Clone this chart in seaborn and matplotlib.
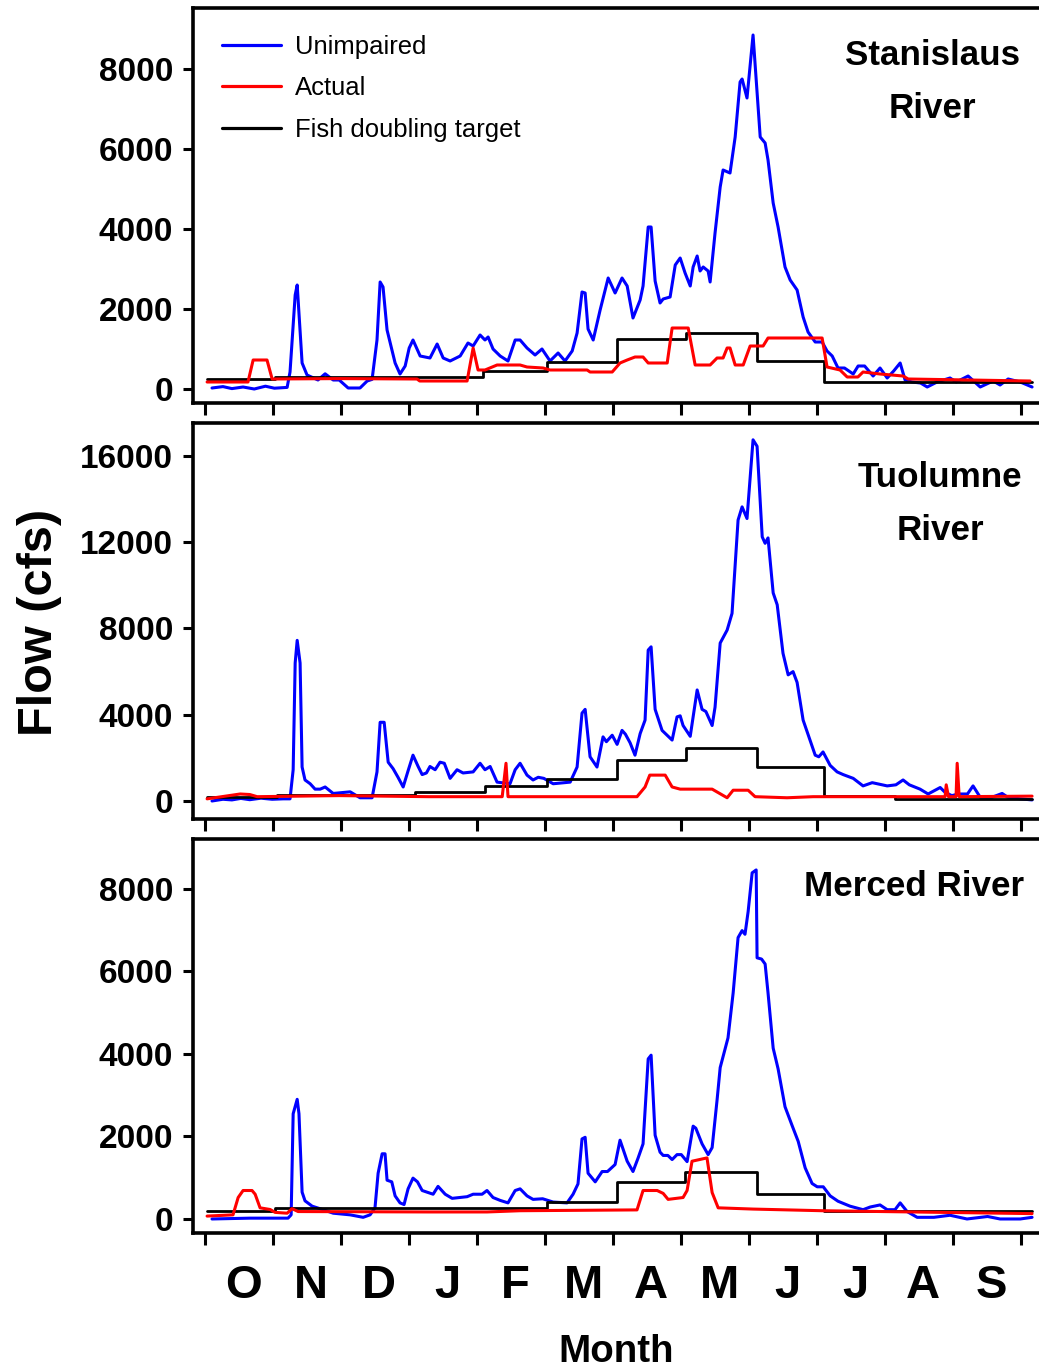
import numpy as np
import matplotlib
matplotlib.use("Agg")
import matplotlib.pyplot as plt
from matplotlib import font_manager as fm
from matplotlib.lines import Line2D
from matplotlib.transforms import ScaledTranslation
import seaborn as sns

# ---------------- data (day of water year, flow in cfs) ----------------
months = ["O", "N", "D", "J", "F", "M", "A", "M", "J", "J", "A", "S"]

stan_unimp_x = [3.1, 8, 12, 17, 22, 27, 31, 36.7, 38.0, 40.3, 41.2, 43.4, 45.6, 50.5, 53.7, 57.3, 60, 64.0, 69.3, 72.5, 74.7, 76.9, 78.3, 79.6, 81.4, 82.8, 85.0, 87.2, 89.5, 91.3, 93.0, 94.8, 96.2, 100.6, 103.8, 106.5, 109.6, 114.1, 117.6, 119.9, 123.0, 125.2, 126.6, 128.8, 132.0, 135.5, 138.7, 140.9, 144.0, 147.6, 150.7, 154.3, 157.9, 161.0, 164.2, 166.4, 168.6, 170.0, 171.3, 173.6, 176.7, 180.3, 183.4, 186.5, 188.8, 191.4, 194.6, 195.9, 198.2, 199.5, 201.3, 203.5, 204.9, 208.0, 210.3, 212.5, 214.7, 217.0, 218.3, 220.1, 221.4, 222.8, 225.0, 225.9, 228.1, 230.4, 231.7, 234.8, 237.1, 239.3, 240.2, 242.4, 245.1, 248.3, 250.5, 251.8, 254.1, 256.3, 259.4, 261.7, 264.8, 267.5, 269.7, 272.9, 276.0, 278.2, 280.5, 283.1, 286, 289.9, 292.1, 295, 298.8, 301.9, 305.1, 308, 310.9, 313.1, 316.2, 320, 323.0, 327.4, 333.2, 336, 341.3, 346.7, 352.5, 355.6, 359.2, 364.6, 369.9]
stan_unimp_y = [25, 60, 10, 50, 0, 70, 20, 40, 425, 2350, 2600, 650, 350, 225, 380, 225, 225, 25, 25, 200, 240, 1225, 2675, 2550, 1475, 1150, 650, 375, 575, 1025, 1225, 1000, 825, 775, 1125, 775, 700, 825, 1150, 1075, 1350, 1225, 1300, 1000, 825, 700, 1225, 1225, 1025, 850, 1000, 700, 900, 700, 950, 1400, 2425, 2400, 1500, 1225, 1975, 2775, 2400, 2775, 2575, 1775, 2225, 2575, 4050, 4050, 2700, 2150, 2250, 2300, 3100, 3275, 2900, 2575, 3050, 3325, 2950, 3050, 2950, 2675, 3900, 5050, 5475, 5400, 6300, 7675, 7750, 7275, 8850, 6300, 6150, 5725, 4650, 4050, 3050, 2725, 2475, 1800, 1425, 1175, 1175, 950, 825, 525, 525, 375, 575, 575, 325, 525, 275, 450, 650, 225, 175, 150, 50, 175, 275, 175, 325, 50, 200, 100, 250, 175, 50]
stan_actual_x = [0.9, 19.2, 21.5, 27.7, 30.0, 60, 94.8, 96, 117.2, 119.9, 122.1, 125.2, 130.6, 140.9, 144.0, 151.2, 154.3, 170.9, 172.2, 182.1, 185.6, 188.8, 192.3, 195.9, 198.2, 206.7, 208.9, 216.1, 219.2, 225.9, 229.0, 231.7, 233.5, 234.8, 237.1, 240.7, 243.8, 249.6, 251.8, 276.0, 278.2, 284.0, 287.2, 292, 294.3, 301.9, 312.2, 314.5, 369.0]
stan_actual_y = [175, 175, 725, 725, 250, 260, 250, 200, 200, 1025, 475, 475, 600, 600, 550, 525, 475, 475, 425, 425, 650, 725, 800, 800, 650, 650, 1525, 1525, 600, 600, 775, 775, 1025, 1025, 600, 600, 1075, 1075, 1275, 1275, 550, 475, 300, 300, 425, 375, 325, 250, 200]
stan_target_x = [0.9, 31.3, 124.4, 153.0, 184.3, 215.0, 246.9, 276.9, 369.9]
stan_target_y = [250, 300, 450, 675, 1250, 1400, 700, 175, 175]

tuol_unimp_x = [3.1, 8, 12, 16, 20, 25, 30, 35, 38.0, 39.4, 40.3, 41.2, 42.5, 43.4, 44.7, 47.0, 49.2, 51.5, 53.7, 57.3, 64.9, 69.3, 74.7, 76.9, 78.3, 80.1, 81.9, 84.1, 86.3, 88.6, 90.8, 93.0, 95.3, 97.1, 99, 100.6, 102.9, 105.1, 107, 109.6, 112.7, 115.4, 119.9, 123.0, 125.2, 127.5, 130.6, 136.4, 138.7, 140.9, 144.0, 146.7, 149, 151.5, 155.7, 163.3, 166.4, 168.6, 170.0, 172.2, 175.3, 178.0, 179.5, 182.1, 184.3, 186.5, 188, 190.1, 192.3, 194.6, 196.8, 198.2, 199.5, 201.3, 204.4, 208.9, 211.1, 212.5, 213.8, 217.0, 220.1, 222.3, 224, 226.8, 228.1, 230.4, 233.5, 235.7, 238.4, 240.2, 242.4, 243.8, 245.1, 246.9, 249.2, 250.5, 251.8, 254.1, 255.9, 258.5, 260.8, 263.0, 264.8, 267.5, 270.6, 272.9, 274.5, 276.4, 279.6, 282.7, 285.4, 289.9, 294.3, 298.4, 305.1, 309, 312.2, 315, 319.8, 323.4, 328.8, 331, 334, 337, 341, 343.5, 346.7, 352, 356.5, 359, 364.6, 369.9]
tuol_unimp_y = [0, 80, 50, 120, 60, 130, 80, 100, 100, 1450, 6400, 7450, 6400, 1575, 975, 800, 550, 550, 650, 350, 425, 150, 150, 1350, 3650, 3650, 1800, 1500, 1100, 650, 1400, 2125, 1600, 1225, 1300, 1600, 1450, 1800, 1750, 1050, 1450, 1300, 1350, 1750, 1450, 1600, 875, 800, 1450, 1750, 1200, 975, 1100, 1050, 800, 875, 1575, 4075, 4250, 2050, 1575, 2975, 2750, 3050, 2625, 3275, 3100, 2700, 2125, 3125, 3750, 7000, 7150, 4250, 3275, 2825, 3900, 3950, 3500, 3000, 5150, 4250, 4150, 3500, 4350, 7325, 7925, 8700, 13030, 13640, 13100, 14980, 16750, 16450, 12250, 11950, 12200, 9650, 9100, 6850, 5850, 6000, 5500, 3750, 2825, 2125, 2050, 2275, 1650, 1350, 1225, 1050, 700, 850, 700, 750, 975, 750, 550, 325, 625, 400, 250, 325, 325, 700, 175, 175, 350, 175, 100, 50]
tuol_actual_x = [0.9, 15.7, 20, 23.3, 60, 100, 132.9, 134.6, 135.5, 193.2, 196.8, 198.9, 205.8, 208.9, 212.5, 226.8, 233.5, 236.2, 242.9, 246.0, 260.3, 272.0, 331, 331.5, 332.5, 335.9, 336.4, 337.3, 369.9]
tuol_actual_y = [100, 325, 300, 200, 250, 200, 200, 1750, 200, 200, 650, 1200, 1200, 650, 550, 550, 150, 500, 500, 200, 150, 200, 200, 750, 200, 200, 1750, 200, 225]
tuol_target_x = [0.9, 32.2, 93.9, 125.2, 153.0, 184.3, 215.2, 246.9, 276.9, 308.6, 369.9]
tuol_target_y = [200, 280, 430, 700, 1000, 1900, 2475, 1575, 225, 75, 75]

merc_unimp_x = [3.1, 20, 37.1, 38.5, 39.4, 41.2, 42.0, 43.4, 44.7, 47.9, 52.8, 57.3, 64.9, 70.7, 73.8, 76.0, 77.4, 79.2, 80.5, 81.4, 83.5, 85.0, 87.2, 89.0, 90.8, 93.0, 95, 97.1, 102.0, 104.2, 107.4, 110.5, 117.2, 119.9, 123.9, 126.1, 128.8, 132.0, 135.5, 138.7, 140.9, 144.0, 146.7, 151, 155.7, 161.9, 164.6, 166.8, 168.6, 170.0, 171.3, 174.5, 177.6, 180, 183.4, 185.6, 188.8, 191.4, 193.7, 195.9, 198.2, 199.5, 201.3, 203.5, 204.9, 207, 208.9, 211.1, 213, 215.6, 218.3, 219.5, 222.3, 225.0, 226.8, 229.0, 230.4, 233.9, 236.2, 238.4, 240.2, 241.5, 242.9, 244.7, 246.5, 246.9, 248.9, 250.5, 251.8, 254.1, 256.3, 259.4, 262.6, 265.3, 268.4, 271.5, 273.8, 276.5, 279.6, 283.1, 288.5, 294.3, 297.5, 301.9, 305.1, 308.6, 310.9, 314.0, 318.5, 326, 333.2, 340.8, 350, 355.6, 364.6, 369.9]
merc_unimp_y = [0, 20, 20, 100, 2550, 2900, 2550, 650, 440, 310, 225, 140, 100, 40, 100, 270, 1110, 1580, 1580, 940, 900, 560, 390, 350, 730, 990, 900, 690, 600, 790, 600, 500, 540, 600, 600, 690, 520, 450, 390, 690, 730, 560, 475, 490, 410, 390, 600, 850, 1940, 1980, 1110, 900, 1150, 1150, 1320, 1910, 1400, 1150, 1480, 1820, 3880, 3970, 2030, 1620, 1540, 1540, 1440, 1560, 1560, 1390, 2250, 2200, 1820, 1560, 1730, 2880, 3670, 4390, 5480, 6820, 6990, 6900, 7450, 8390, 8460, 6330, 6300, 6180, 5480, 4140, 3640, 2720, 2260, 1880, 1240, 860, 780, 780, 560, 430, 310, 225, 290, 340, 225, 225, 390, 180, 40, 40, 90, 0, 60, 0, 0, 40]
merc_actual_x = [0.9, 12.5, 14.8, 17.0, 21.0, 22.4, 24.6, 29.1, 31.3, 36.7, 38.9, 41.6, 100, 126.1, 140.9, 193.2, 195.9, 202.2, 204.9, 207.1, 213.8, 215.6, 217.8, 224.5, 226.8, 229.5, 245.1, 276.0, 369.9]
merc_actual_y = [70, 100, 520, 690, 690, 600, 270, 230, 160, 140, 250, 180, 170, 170, 200, 220, 690, 690, 620, 475, 520, 690, 1400, 1480, 640, 270, 240, 200, 130]
merc_target_x = [0.9, 31.3, 153.0, 184.3, 214.7, 246.9, 276.9, 369.9]
merc_target_y = [200, 270, 420, 900, 1150, 600, 195, 195]

panel_titles = ["Stanislaus\nRiver", "Tuolumne\nRiver", "Merced River"]
series_labels = ["Unimpaired", "Actual", "Fish doubling target"]
yticks_list = [[0, 2000, 4000, 6000, 8000], [0, 4000, 8000, 12000, 16000], [0, 2000, 4000, 6000, 8000]]
ylims = [(-350, 9525), (-835, 17530), (-340, 9210)]

# ---------------- style ----------------
sns.set_style("white")
plt.rcParams["font.family"] = ["Liberation Sans", "DejaVu Sans"]
for k in ("text.color", "axes.labelcolor", "xtick.color", "ytick.color", "axes.edgecolor"):
    plt.rcParams[k] = "black"

try:
    fm.findfont(fm.FontProperties(family="Liberation Sans Narrow", weight="bold"),
                fallback_to_default=False)
    NARROW = ["Liberation Sans Narrow", "Liberation Sans", "DejaVu Sans"]
    nscale = 1.0
except Exception:
    NARROW = ["Liberation Sans", "DejaVu Sans"]
    nscale = 0.84

W, H = 1039, 1371
fig = plt.figure(figsize=(W / 100, H / 100), dpi=100)


def rect(top, bottom):
    return [193 / W, 1 - bottom / H, 1 - 193 / W, (bottom - top) / H]


boxes = [(8, 403), (423, 819), (839, 1233)]
data = [
    (stan_unimp_x, stan_unimp_y, stan_actual_x, stan_actual_y, stan_target_x, stan_target_y),
    (tuol_unimp_x, tuol_unimp_y, tuol_actual_x, tuol_actual_y, tuol_target_x, tuol_target_y),
    (merc_unimp_x, merc_unimp_y, merc_actual_x, merc_actual_y, merc_target_x, merc_target_y),
]

BLUE, RED, BLACK = "#0000FF", "#FF0000", "#000000"
month_edges = np.linspace(0, 365, 13)
month_mids = (month_edges[:-1] + month_edges[1:]) / 2

axes = []
for i, (top, bottom) in enumerate(boxes):
    ax = fig.add_axes(rect(top, bottom))
    ux, uy, ax_, ay, tx, ty = data[i]
    sns.lineplot(x=ux, y=uy, ax=ax, color=BLUE, lw=2.2, sort=False, estimator=None)
    sns.lineplot(x=tx, y=ty, ax=ax, color=BLACK, lw=2.0, sort=False, estimator=None,
                 drawstyle="steps-post")
    sns.lineplot(x=ax_, y=ay, ax=ax, color=RED, lw=2.2, sort=False, estimator=None)
    ax.set_xlim(-5.4, 373)
    ax.set_ylim(*ylims[i])
    ax.set_xlabel("")
    ax.set_ylabel("")
    for s in ["left", "top", "bottom"]:
        ax.spines[s].set_linewidth(2.6)
        ax.spines[s].set_color("black")
    ax.spines["right"].set_visible(False)
    ax.set_yticks(yticks_list[i])
    ax.set_yticklabels([str(v) for v in yticks_list[i]], fontsize=24, fontweight="bold")
    ax.tick_params(axis="y", direction="out", length=7.2, width=2.2, pad=7, left=True,
                   colors="black")
    ax.set_xticks(month_edges)
    ax.set_xticklabels([])
    ax.tick_params(axis="x", which="major", direction="out", length=8.6, width=2.2,
                   bottom=True, colors="black")
    axes.append(ax)

# month letters on bottom panel
ax3 = axes[2]
ax3.set_xticks(month_mids, minor=True)
ax3.set_xticklabels(months, minor=True, fontsize=34, fontweight="bold")
ax3.tick_params(axis="x", which="minor", length=0, pad=22)
shift = ScaledTranslation(4 / 100, 0, fig.dpi_scale_trans)
for lab in ax3.get_xticklabels(minor=True):
    lab.set_transform(lab.get_transform() + shift)

# legend in the top panel
handles = [Line2D([], [], color=c, lw=2.3) for c in (BLUE, RED, BLACK)]
fig.legend(handles, series_labels, loc="upper left",
           bbox_to_anchor=(222 / W, 1 - 35 / H), frameon=False,
           prop={"family": NARROW, "size": 22 * nscale},
           handlelength=2.3, handletextpad=0.55,
           labelspacing=0.68, borderpad=0, borderaxespad=0)

# river names
fig.text(932 / W, 1 - 82 / H, panel_titles[0], ha="center", va="center",
         family=NARROW, fontsize=30 * nscale, fontweight="bold", linespacing=1.75)
fig.text(940 / W, 1 - 504 / H, panel_titles[1], ha="center", va="center",
         family=NARROW, fontsize=30 * nscale, fontweight="bold", linespacing=1.75)
fig.text(914 / W, 1 - 886 / H, panel_titles[2], ha="center", va="center",
         family=NARROW, fontsize=30 * nscale, fontweight="bold")

# axis titles
fig.text(40 / W, 1 - 622 / H, "Flow (cfs)", rotation=90, ha="center", va="center",
         fontsize=35, fontweight="bold")
fig.text(616 / W, 1 - 1362 / H, "Month", ha="center", va="baseline",
         family=NARROW, fontsize=33 * nscale, fontweight="bold")

fig.savefig("out.png", dpi=100)
